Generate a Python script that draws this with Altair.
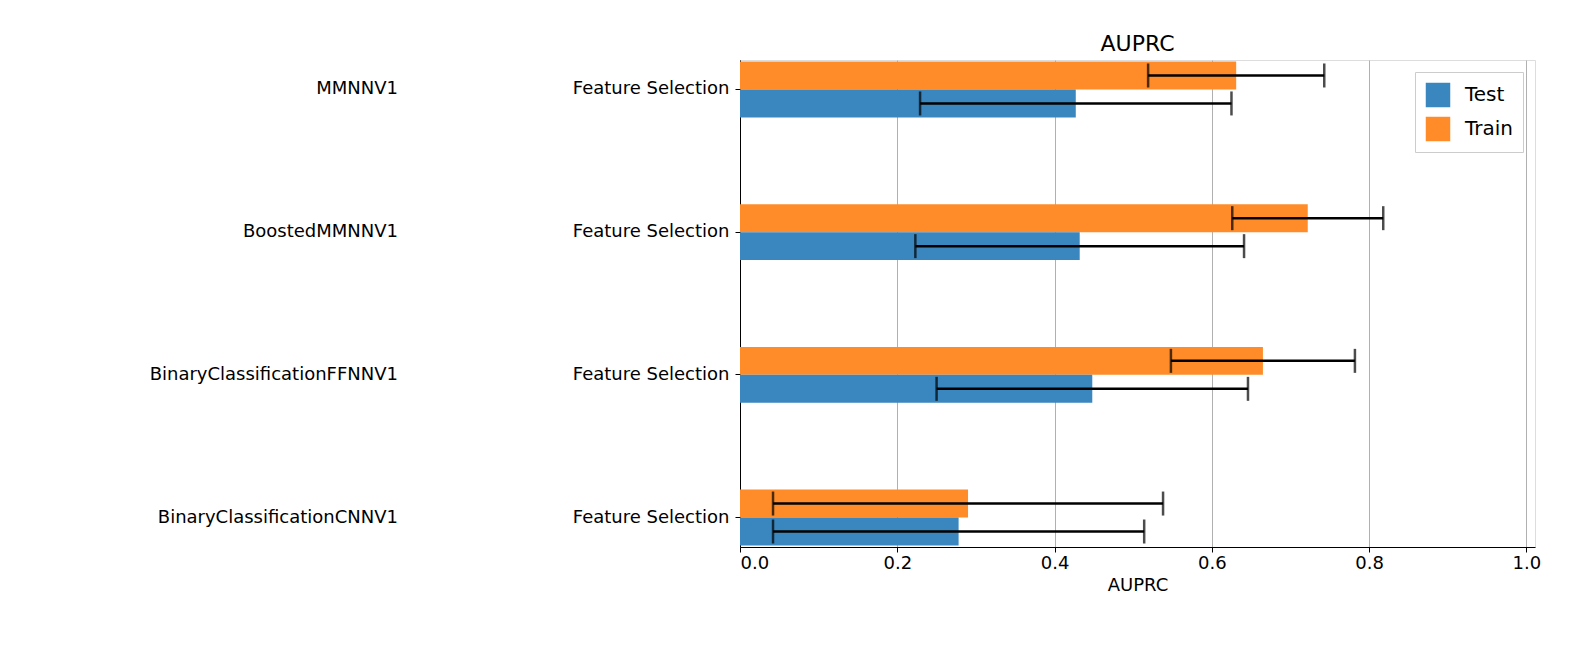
import altair as alt
import pandas as pd

models = ["MMNNV1", "BoostedMMNNV1", "BinaryClassificationFFNNV1", "BinaryClassificationCNNV1"]
train_mean = [0.631, 0.722, 0.665, 0.290]
train_err = [0.112, 0.096, 0.117, 0.248]
test_mean = [0.427, 0.432, 0.448, 0.278]
test_err = [0.198, 0.209, 0.198, 0.236]

rows = []
for i, m in enumerate(models):
    rows.append({"model": m, "split": "Train", "v": train_mean[i],
                 "lo": train_mean[i] - train_err[i], "hi": train_mean[i] + train_err[i]})
    rows.append({"model": m, "split": "Test", "v": test_mean[i],
                 "lo": test_mean[i] - test_err[i], "hi": test_mean[i] + test_err[i]})
df = pd.DataFrame(rows)

FONT = "DejaVu Sans"
FS = 18
yscale = alt.Scale(domain=models, paddingInner=0.608, paddingOuter=0.0105)
yenc = alt.Y("model:N", scale=yscale, sort=models,
             axis=alt.Axis(title=None, labelExpr="'Feature Selection'", labelFontSize=FS,
                           labelColor="black", labelFont=FONT, labelPadding=6,
                           tickColor="black", domainColor="black", grid=False))
yoff = alt.YOffset("split:N", sort=["Train", "Test"])
xscale = alt.Scale(domain=[0, 1.011], nice=False)

base = alt.Chart(df).encode(y=yenc, yOffset=yoff)

bars = base.mark_bar().encode(
    x=alt.X("v:Q", scale=xscale,
            axis=alt.Axis(title="AUPRC", values=[0, 0.2, 0.4, 0.6, 0.8, 1.0], format=".1f",
                          labelFontSize=FS, titleFontSize=FS, titleFontWeight="normal",
                          labelColor="black", titleColor="black", labelFont=FONT, titleFont=FONT,
                          gridColor="#b0b0b0", tickColor="black", domainColor="black")),
    color=alt.Color("split:N", scale=alt.Scale(domain=["Test", "Train"], range=["#3a87bf", "#ff8c28"]),
                    legend=alt.Legend(title=None, orient="top-right", labelFontSize=20, labelFont=FONT,
                                      symbolType="square", symbolSize=600, strokeColor="#cccccc",
                                      fillColor="white", padding=10, offset=12, labelColor="black",
                                      rowPadding=8, labelOffset=14)),
)

rule = base.mark_rule(color="black", strokeWidth=2.5).encode(x="lo:Q", x2="hi:Q")
cap_lo = base.mark_tick(color="black", thickness=2.5, size=24).encode(x="lo:Q")
cap_hi = base.mark_tick(color="black", thickness=2.5, size=24).encode(x="hi:Q")

names = alt.Chart(pd.DataFrame({"model": models})).mark_text(
    align="right", fontSize=FS, font=FONT, color="black"
).encode(y=alt.Y("model:N", scale=yscale, sort=models), x=alt.value(-342), text="model:N")

chart = alt.layer(bars, rule, cap_lo, cap_hi, names).properties(
    width=795, height=487,
    autosize=alt.AutoSizeParams(type="none"),
    padding={"left": 732, "top": 52, "right": 20, "bottom": 90},
    title=alt.TitleParams("AUPRC", fontSize=22, font=FONT, fontWeight="normal", color="black"),
).configure_view(stroke="black", strokeWidth=1.2).configure(background="white")

chart.save("out.html", embed_options={"renderer": "svg", "actions": False})
